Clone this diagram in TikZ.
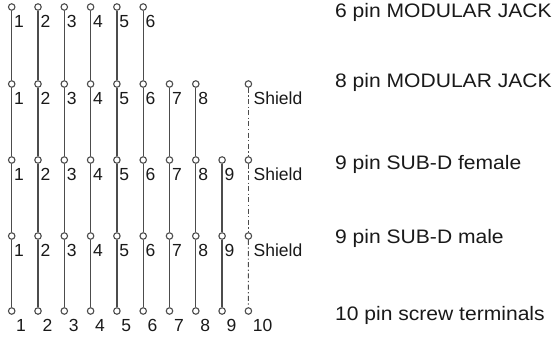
\documentclass[tikz,border=0pt]{standalone}
\usepackage{fontspec}
\setmainfont{Liberation Sans}
\newfontfamily\pinfont{Liberation Sans}
\newfontfamily\titlefont[FakeStretch=1.08]{Liberation Sans}
\definecolor{linecol}{gray}{0.30}
\definecolor{txtcol}{gray}{0.10}
\begin{document}
\begin{tikzpicture}[x=1pt,y=-1pt,
  pin/.style={circle,draw=linecol,fill=white,line width=1.1pt,minimum size=6.5pt,inner sep=0pt},
  wire/.style={draw=linecol,line width=1.25pt},
  shieldwire/.style={draw=linecol,line width=1.1pt,dash pattern=on 5pt off 2.5pt on 1.2pt off 2.5pt},
  num/.style={anchor=base west,inner sep=0pt,text=txtcol,font=\pinfont\fontsize{17.5}{20}\selectfont},
  title/.style={anchor=base west,inner sep=0pt,text=txtcol,font=\titlefont\fontsize{19.5}{22}\selectfont}]
\useasboundingbox (0,0) rectangle (556,338);
\def\ya{7}\def\yb{84}\def\yc{160}\def\yd{236}\def\ye{311}
% row 1: pins 1-6
\foreach \i in {1,...,6}{
  \node[pin] (a\i) at ({11.7+(\i-1)*26.3},\ya) {};
  \node[num] (la\i) at ({11.7+(\i-1)*26.3+2.3},\ya+20.5) {\i};
}
% row 2: pins 1-8 + shield
\foreach \i in {1,...,8}{
  \node[pin] (b\i) at ({11.7+(\i-1)*26.3},\yb) {};
  \node[num] (lb\i) at ({11.7+(\i-1)*26.3+2.3},\yb+20.5) {\i};
}
\node[pin] (bS) at (248.4,\yb) {};
\node[num] (lbS) at (248.4+5,\yb+20.5) {Shield};
% row 3: pins 1-9 + shield
\foreach \i in {1,...,9}{
  \node[pin] (c\i) at ({11.7+(\i-1)*26.3},\yc) {};
  \node[num] (lc\i) at ({11.7+(\i-1)*26.3+2.3},\yc+20.5) {\i};
}
\node[pin] (cS) at (248.4,\yc) {};
\node[num] (lcS) at (248.4+5,\yc+20.5) {Shield};
% row 4: pins 1-9 + shield
\foreach \i in {1,...,9}{
  \node[pin] (d\i) at ({11.7+(\i-1)*26.3},\yd) {};
  \node[num] (ld\i) at ({11.7+(\i-1)*26.3+2.3},\yd+20.5) {\i};
}
\node[pin] (dS) at (248.4,\yd) {};
\node[num] (ldS) at (248.4+5,\yd+20.5) {Shield};
% row 5: pins 1-10
\foreach \i in {1,...,10}{
  \node[pin] (e\i) at ({11.7+(\i-1)*26.3},\ye) {};
  \node[num] (le\i) at ({11.7+(\i-1)*26.3+4.3},\ye+20) {\i};
}
% wires
\foreach \i in {1,...,6}{\draw[wire] (a\i) -- (b\i);}
\foreach \i in {1,...,8}{\draw[wire] (b\i) -- (c\i);}
\foreach \i in {1,...,9}{\draw[wire] (c\i) -- (d\i);}
\foreach \i in {1,...,9}{\draw[wire] (d\i) -- (e\i);}
\draw[shieldwire] (bS) -- (cS);
\draw[shieldwire] (cS) -- (dS);
\draw[shieldwire] (dS) -- (e10);
% titles
\node[title] (t1) at (335,17.3) {6 pin MODULAR JACK};
\node[title] (t2) at (335,87.3) {8 pin MODULAR JACK};
\node[title] (t3) at (335,169.3) {9 pin SUB-D female};
\node[title] (t4) at (335,243.3) {9 pin SUB-D male};
\node[title] (t5) at (335,320) {10 pin screw terminals};
\end{tikzpicture}
\end{document}
